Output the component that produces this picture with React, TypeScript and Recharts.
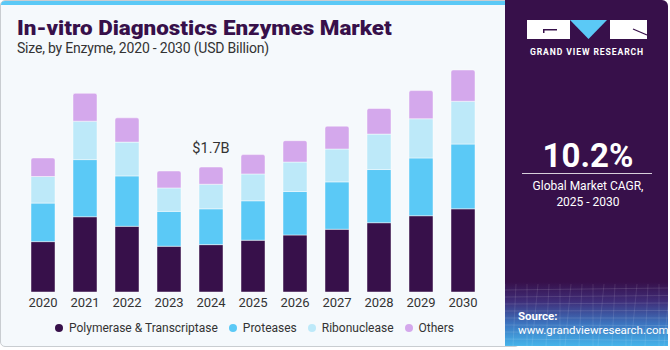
import { BarChart, Bar, XAxis, YAxis, Legend, LabelList } from "recharts";

const years = ["2020", "2021", "2022", "2023", "2024", "2025", "2026", "2027", "2028", "2029", "2030"];
const polymerase = [0.685, 1.023, 0.893, 0.622, 0.644, 0.704, 0.775, 0.853, 0.942, 1.037, 1.131];
const proteases = [0.524, 0.777, 0.685, 0.474, 0.487, 0.536, 0.591, 0.644, 0.723, 0.785, 0.88];
const ribonuclease = [0.361, 0.522, 0.46, 0.319, 0.334, 0.365, 0.401, 0.447, 0.482, 0.533, 0.582];
const others = [0.252, 0.379, 0.33, 0.23, 0.234, 0.263, 0.29, 0.311, 0.348, 0.383, 0.425];
const callout = { year: "2024", text: "$1.7B" };

const series = [
  { key: "polymerase", name: "Polymerase & Transcriptase", color: "#37104a" },
  { key: "proteases", name: "Proteases", color: "#5bc9f6" },
  { key: "ribonuclease", name: "Ribonuclease", color: "#bde9f9" },
  { key: "others", name: "Others", color: "#d4a8ec" },
];

const data = years.map((year, i) => ({
  year,
  polymerase: polymerase[i],
  proteases: proteases[i],
  ribonuclease: ribonuclease[i],
  others: others[i],
}));

const FONT = "Roboto, 'Liberation Sans', sans-serif";

function LegendRow() {
  return (
    <div style={{ display: "flex", justifyContent: "center", alignItems: "center", fontFamily: FONT, fontSize: 12, color: "#333", paddingLeft: 14 }}>
      {series.map((s) => (
        <div key={s.key} style={{ display: "flex", alignItems: "center", marginRight: 11 }}>
          <span style={{ width: 8, height: 8, borderRadius: 4, background: s.color, marginRight: 6, display: "inline-block" }} />
          <span>{s.name}</span>
        </div>
      ))}
    </div>
  );
}

function CalloutLabel(props: any) {
  const { x, y, width, index } = props;
  if (data[index].year !== callout.year) return null;
  return (
    <text x={x + width / 2} y={y - 14} textAnchor="middle" fontSize={14.5} fill="#333" fontFamily={FONT}>
      {callout.text}
    </text>
  );
}

function SidePanel() {
  return (
    <svg width={165} height={348} style={{ position: "absolute", left: 505, top: 0 }}>
      <defs>
        <linearGradient id="bottomGlow" x1="0" y1="0" x2="0" y2="1">
          <stop offset="0" stopColor="#37104a" />
          <stop offset="0.3" stopColor="#3f2d78" />
          <stop offset="0.65" stopColor="#3c74bf" />
          <stop offset="1" stopColor="#45b4ea" />
        </linearGradient>
      </defs>
      <path d="M0 0 H157 A6 6 0 0 1 163 6 V346 H0 Z" fill="#37104a" />
      <rect x={0} y={282} width={163} height={64} fill="url(#bottomGlow)" />
      {[0, 1, 2, 3, 4, 5, 6, 7, 8].map((i) => (
        <line key={"h" + i} x1={0} x2={163} y1={290 + i * 7} y2={288 + i * 7.5} stroke="#ffffff" strokeOpacity={0.12} />
      ))}
      {[0, 1, 2, 3, 4, 5, 6, 7, 8, 9, 10, 11, 12, 13, 14, 15].map((i) => (
        <line key={"v" + i} x1={i * 11} x2={i * 11 - 6 + (i % 3) * 3} y1={284} y2={346} stroke="#ffffff" strokeOpacity={0.1} />
      ))}
      <rect x={22} y={20} width={43} height={19} fill="#fff" />
      <rect x={38} y={29} width={14} height={1.5} fill="#37104a" />
      <rect x={38} y={29} width={1.5} height={4} fill="#37104a" />
      <polygon points="65,20 102,20 83.5,39" fill="#5bc9f6" />
      <rect x={105} y={20} width={37} height={19} fill="#fff" />
      <line x1={128} y1={29} x2={142} y2={35} stroke="#37104a" strokeWidth={1.3} />
      <text x={82} y={55} textAnchor="middle" fontSize={8.6} fontWeight={700} fill="#fff" fontFamily={FONT} letterSpacing={0.9}>
        GRAND VIEW RESEARCH
      </text>
      <text x={83} y={167} textAnchor="middle" fontSize={33} fontWeight={700} fill="#fff" fontFamily={FONT}>
        10.2%
      </text>
      <line x1={17} x2={147} y1={173.5} y2={173.5} stroke="#fff" strokeOpacity={0.8} />
      <text x={83} y={190} textAnchor="middle" fontSize={12} fill="#fff" fontFamily={FONT}>
        Global Market CAGR,
      </text>
      <text x={83} y={206} textAnchor="middle" fontSize={12} fill="#fff" fontFamily={FONT}>
        2025 - 2030
      </text>
      <text x={13} y={320} fontSize={11.5} fontWeight={700} fill="#fff" fontFamily={FONT}>
        Source:
      </text>
      <text x={13} y={334} fontSize={11.5} fill="#fff" fontFamily={FONT}>
        www.grandviewresearch.com
      </text>
    </svg>
  );
}

export default function App() {
  return (
    <div style={{ position: "absolute", left: 0, top: 0, width: 670, height: 350, background: "#fff", overflow: "hidden" }}>
      <div
        style={{
          position: "absolute",
          left: 0,
          top: 0,
          width: 520,
          height: 347,
          background: "#f5f9fc",
          border: "1px solid #c9cdd1",
          borderRadius: 5,
          boxSizing: "border-box",
          overflow: "hidden",
        }}
      >
        <div style={{ position: "absolute", left: 0, top: 0, right: 0, height: 4, background: "#5bc9f6" }} />
      </div>
      <div
        style={{
          position: "absolute",
          left: 17,
          top: 19,
          fontFamily: FONT,
          fontWeight: 900,
          fontSize: 20,
          lineHeight: "18px",
          color: "#37104a",
          whiteSpace: "nowrap",
          transform: "scaleX(1.12)",
          transformOrigin: "left center",
        }}
      >
        In-vitro Diagnostics Enzymes Market
      </div>
      <div
        style={{
          position: "absolute",
          left: 17,
          top: 41,
          fontFamily: FONT,
          fontSize: 14,
          lineHeight: "14px",
          letterSpacing: -0.2,
          color: "#333",
          whiteSpace: "nowrap",
        }}
      >
        Size, by Enzyme, 2020 - 2030 (USD Billion)
      </div>
      <div style={{ position: "absolute", left: 0, top: 0 }}>
        <BarChart width={505} height={350} data={data} margin={{ top: 70, right: 21, left: 22, bottom: 7 }} barSize={24}>
          <XAxis
            dataKey="year"
            axisLine={false}
            tickLine={false}
            tickSize={0}
            tickMargin={6}
            height={29}
            interval={0}
            tick={{ fill: "#333", fontSize: 13, fontFamily: FONT }}
          />
          <YAxis hide domain={[0, 3]} />
          <Legend verticalAlign="bottom" height={22} content={() => <LegendRow />} />
          {series.map((s, i) => (
            <Bar
              key={s.key}
              dataKey={s.key}
              name={s.name}
              stackId="a"
              fill={s.color}
              stroke="#ffffff"
              strokeOpacity={0.45}
              strokeWidth={1}
              radius={i === series.length - 1 ? [2, 2, 0, 0] : 0}
              isAnimationActive={false}
            >
              {i === series.length - 1 && <LabelList dataKey={s.key} content={CalloutLabel} />}
            </Bar>
          ))}
        </BarChart>
      </div>
      <SidePanel />
    </div>
  );
}
